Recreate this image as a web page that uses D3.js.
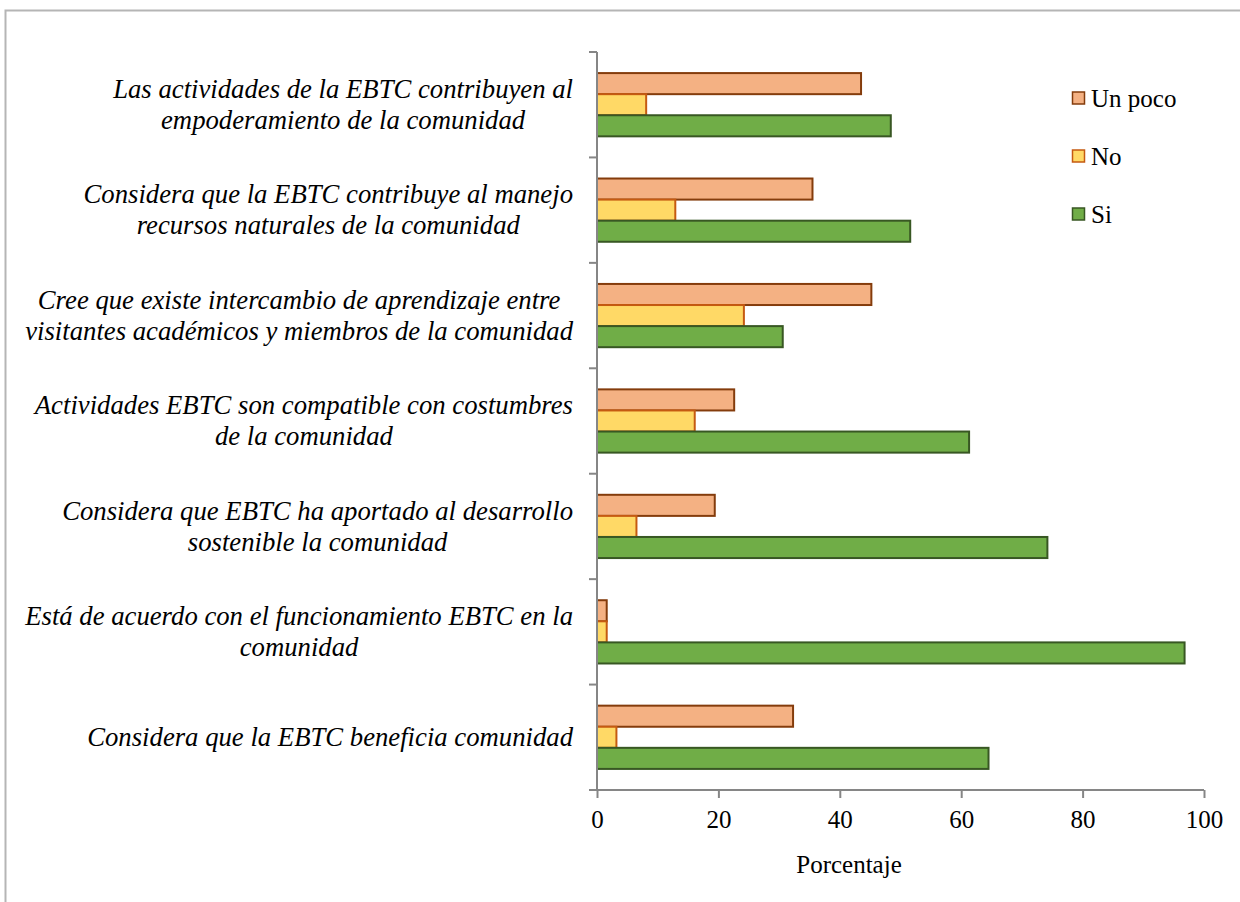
<!DOCTYPE html>
<html>
<head>
<meta charset="utf-8">
<script src="https://cdn.jsdelivr.net/npm/d3@7/dist/d3.min.js"></script>
<style>
  html, body { margin: 0; padding: 0; background: #fff; }
  svg { display: block; }
</style>
</head>
<body>
<svg id="chart" width="1240" height="902"></svg>
<script>
// Survey items (each label split into its display lines)
const categories = [
  ["Las actividades de la EBTC contribuyen al", "empoderamiento de la comunidad"],
  ["Considera que la EBTC contribuye al manejo", "recursos naturales de la comunidad"],
  ["Cree que existe intercambio de aprendizaje entre", "visitantes académicos y miembros de la comunidad"],
  ["Actividades EBTC son compatible con costumbres", "de la comunidad"],
  ["Considera que EBTC ha aportado al desarrollo", "sostenible la comunidad"],
  ["Está de acuerdo con el funcionamiento EBTC en la", "comunidad"],
  ["Considera que la EBTC beneficia comunidad"]
];
const seriesNames = ["Un poco", "No", "Si"];
const unPoco = [43.5, 35.5, 45.2, 22.6, 19.4, 1.6, 32.3];
const no     = [8.1, 12.9, 24.2, 16.1, 6.5, 1.6, 3.2];
const si     = [48.4, 51.6, 30.6, 61.3, 74.2, 96.8, 64.5];
const xTicks = [0, 20, 40, 60, 80, 100];
const xTitle = "Porcentaje";

const seriesValues = [unPoco, no, si];
const fills   = ["#F4B183", "#FFD966", "#70AD47"];
const strokes = ["#843C0C", "#C55A11", "#385723"];

// Pick the first Times-like face that is actually installed
const ctx = document.createElement("canvas").getContext("2d");
function installed(name) {
  const probe = "Considera que la EBTC beneficia comunidad 0123456789";
  return ["monospace", "sans-serif"].some(base => {
    ctx.font = `40px ${base}`;
    const w0 = ctx.measureText(probe).width;
    ctx.font = `40px "${name}", ${base}`;
    return ctx.measureText(probe).width !== w0;
  });
}
const candidates = ["Liberation Serif", "Tinos", "Times New Roman", "Times", "DejaVu Serif",
  "Noto Serif", "FreeSerif", "Nimbus Roman", "Nimbus Roman No9 L", "Noto Serif CJK SC",
  "Noto Serif CJK JP", "Source Serif Pro", "Georgia", "Caladea"];
const face = candidates.find(installed);
const fontStack = face ? `"${face}", serif` : "serif";

// Font size giving a string a chosen rendered width
function sizeFor(text, width, italic) {
  ctx.font = `${italic ? "italic " : ""}100px ${fontStack}`;
  return 100 * width / ctx.measureText(text).width;
}

const svg = d3.select("#chart").style("font-family", fontStack);

// Outer chart frame
svg.append("rect")
  .attr("x", 5.5).attr("y", 10.5)
  .attr("width", 1260).attr("height", 920)
  .attr("fill", "#fff")
  .attr("stroke", "#b5b5b5").attr("stroke-width", 2);

const plotLeft = 597, plotRight = 1204, plotTop = 52, plotBottom = 790;
const keys = categories.map((d, i) => i);

const x = d3.scaleLinear().domain([0, 100]).range([plotLeft, plotRight]);
const y = d3.scaleBand().domain(keys).range([plotTop, plotBottom]).padding(0);
const ySub = d3.scaleBand().domain(seriesNames).range([0, y.bandwidth()])
  .paddingInner(0).paddingOuter(1);

const axisColor = "#868686";
const labelSize = Math.min(27, sizeFor(categories[2][1], 548, true));
const smallSize = Math.min(25, sizeFor("Porcentaje", 112, false));

// Bars
keys.forEach(ci => {
  const g = svg.append("g").attr("transform", `translate(0,${y(ci)})`);
  seriesNames.forEach((s, k) => {
    const v = seriesValues[k][ci];
    g.append("rect")
      .attr("x", x(0))
      .attr("y", ySub(s))
      .attr("width", x(v) - x(0))
      .attr("height", ySub.bandwidth())
      .attr("fill", fills[k])
      .attr("stroke", strokes[k])
      .attr("stroke-width", 2);
  });
});

// X axis
const xAxis = d3.axisBottom(x).tickValues(xTicks).tickSize(8).tickSizeOuter(0).tickPadding(12);
const gx = svg.append("g").attr("transform", `translate(0,${plotBottom})`).call(xAxis);
gx.attr("font-family", fontStack).attr("font-size", smallSize);
gx.select(".domain").attr("stroke", axisColor).attr("stroke-width", 2)
  .attr("d", `M${plotLeft - 8},0H${plotRight}`);
gx.selectAll(".tick line").attr("stroke", axisColor).attr("stroke-width", 2);
gx.selectAll(".tick text").attr("fill", "#000");

// Y axis: category boundaries as ticks
const boundaries = keys.map(k => y(k)).concat([plotBottom]);
svg.append("line")
  .attr("x1", plotLeft).attr("x2", plotLeft).attr("y1", plotTop).attr("y2", plotBottom)
  .attr("stroke", axisColor).attr("stroke-width", 2);
svg.selectAll(".ytick").data(boundaries).enter().append("line")
  .attr("x1", plotLeft - 8).attr("x2", plotLeft)
  .attr("y1", d => d).attr("y2", d => d)
  .attr("stroke", axisColor).attr("stroke-width", 2);

// Category labels: lines centred within a right-aligned block
const labelRight = 573, lineGap = 31;
keys.forEach(ci => {
  const lines = categories[ci];
  const cy = y(ci) + y.bandwidth() / 2;
  const g = svg.append("g");
  const texts = lines.map((ln, li) => g.append("text")
    .text(ln)
    .attr("y", cy + (li - (lines.length - 1) / 2) * lineGap)
    .attr("dy", "0.33em")
    .attr("text-anchor", "middle")
    .attr("font-style", "italic")
    .attr("font-size", labelSize)
    .attr("fill", "#000"));
  const maxW = d3.max(texts, t => t.node().getComputedTextLength());
  texts.forEach(t => t.attr("x", labelRight - maxW / 2));
});

// X axis title
svg.append("text")
  .text(xTitle)
  .attr("x", 849).attr("y", 873)
  .attr("text-anchor", "middle")
  .attr("font-size", smallSize)
  .attr("fill", "#000");

// Legend
const legendY = [98, 156, 214];
seriesNames.forEach((s, i) => {
  svg.append("rect")
    .attr("x", 1072.5).attr("y", legendY[i] - 6)
    .attr("width", 12).attr("height", 12)
    .attr("fill", fills[i]).attr("stroke", strokes[i]).attr("stroke-width", 1.5);
  svg.append("text")
    .text(s)
    .attr("x", 1091).attr("y", legendY[i])
    .attr("dy", "0.35em")
    .attr("font-size", smallSize)
    .attr("fill", "#000");
});
</script>
</body>
</html>
